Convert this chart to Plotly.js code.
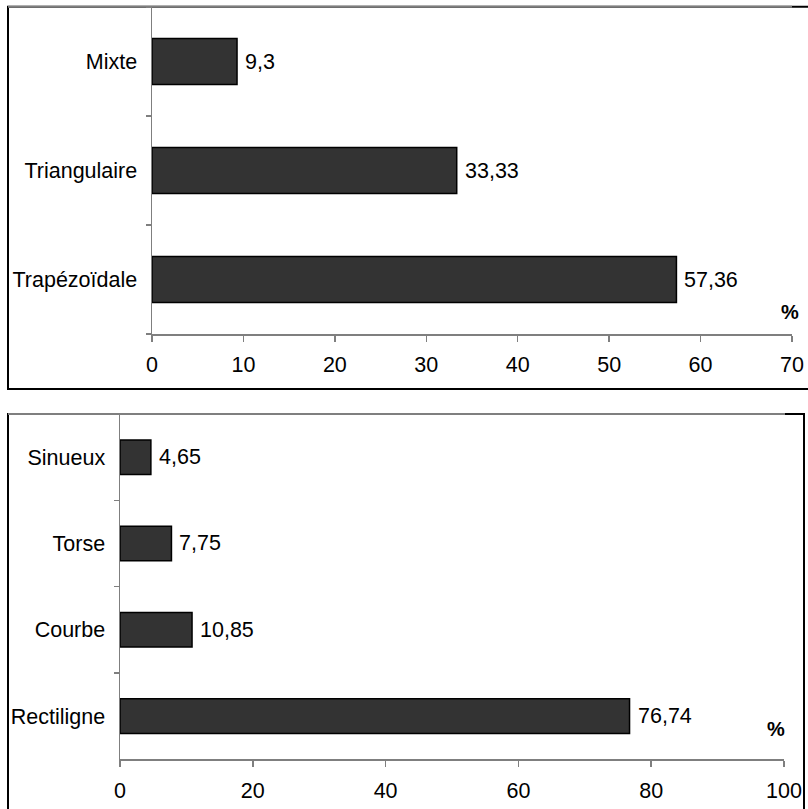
<!DOCTYPE html>
<html>
<head>
<meta charset="utf-8">
<script src="https://cdn.plot.ly/plotly-3.0.1.min.js"></script>
<style>html,body{margin:0;padding:0;background:#fff;}</style>
</head>
<body>
<div id="chart" style="width:808px;height:809px;"></div>
<script>
// Top chart: shape of the section
const topCategories = ['Trapézoïdale', 'Triangulaire', 'Mixte'];
const topValues = [57.36, 33.33, 9.3];
const topTicks = [0, 10, 20, 30, 40, 50, 60, 70];

// Bottom chart: course of the trunk
const bottomCategories = ['Rectiligne', 'Courbe', 'Torse', 'Sinueux'];
const bottomValues = [76.74, 10.85, 7.75, 4.65];
const bottomTicks = [0, 20, 40, 60, 80, 100];

const unitLabel = '%';

const W = 808, H = 809;
const FONT = 'Liberation Sans, Arial, sans-serif';
const FS = 21.5;
const fmt = v => String(v).replace('.', ',');

const barStyle = {color: '#333333', line: {color: '#000000', width: 1.5}};

const traces = [
  {type: 'bar', orientation: 'h', y: topCategories, x: topValues, xaxis: 'x', yaxis: 'y',
   marker: barStyle, width: 0.42, hoverinfo: 'skip'},
  {type: 'bar', orientation: 'h', y: bottomCategories, x: bottomValues, xaxis: 'x2', yaxis: 'y2',
   marker: barStyle, width: 0.40, hoverinfo: 'skip'}
];

const annotations = [];
topValues.forEach((v, i) => annotations.push({
  xref: 'x', yref: 'y', x: v, y: topCategories[i], text: fmt(v), showarrow: false,
  xanchor: 'left', yanchor: 'middle', xshift: 6, font: {family: FONT, size: FS, color: '#000'}
}));
bottomValues.forEach((v, i) => annotations.push({
  xref: 'x2', yref: 'y2', x: v, y: bottomCategories[i], text: fmt(v), showarrow: false,
  xanchor: 'left', yanchor: 'middle', xshift: 6, font: {family: FONT, size: FS, color: '#000'}
}));
annotations.push({xref: 'paper', yref: 'paper', x: 790 / W, y: 1 - 312 / H, text: '<b>' + unitLabel + '</b>',
  showarrow: false, xanchor: 'center', yanchor: 'middle', font: {family: FONT, size: 20, color: '#000'}});
annotations.push({xref: 'paper', yref: 'paper', x: 776 / W, y: 1 - 729 / H, text: '<b>' + unitLabel + '</b>',
  showarrow: false, xanchor: 'center', yanchor: 'middle', font: {family: FONT, size: 20, color: '#000'}});

const axisCommon = {
  showline: true, linecolor: '#7f7f7f', linewidth: 1.5, showgrid: false, zeroline: false,
  ticks: 'outside', tickcolor: '#7f7f7f', tickwidth: 1.5, ticklen: 6,
  tickfont: {family: FONT, size: FS, color: '#000'}, fixedrange: true
};

const px = v => v / W, py = v => 1 - v / H;

const shapes = [
  // outer frames
  {type: 'rect', xref: 'paper', yref: 'paper', x0: px(8), x1: px(815), y0: py(389), y1: py(6.7),
   line: {color: '#000', width: 2}, fillcolor: 'rgba(0,0,0,0)', layer: 'below'},
  {type: 'rect', xref: 'paper', yref: 'paper', x0: px(8), x1: px(804), y0: py(815), y1: py(414),
   line: {color: '#000', width: 2}, fillcolor: 'rgba(0,0,0,0)', layer: 'below'},
  // gray plot-area top edges
  {type: 'line', xref: 'paper', yref: 'paper', x0: px(8), x1: px(792), y0: py(6.7), y1: py(6.7),
   line: {color: '#7f7f7f', width: 2}},
  {type: 'line', xref: 'paper', yref: 'paper', x0: px(8), x1: px(785), y0: py(414), y1: py(414),
   line: {color: '#7f7f7f', width: 2}}
];

const layout = {
  width: W, height: H, margin: {l: 0, r: 0, t: 0, b: 0},
  paper_bgcolor: '#fff', plot_bgcolor: '#fff', showlegend: false,
  font: {family: FONT, size: FS, color: '#000'},
  xaxis: Object.assign({}, axisCommon, {domain: [px(152), px(792)], range: [0, 70], tickvals: topTicks,
    anchor: 'y', ticklabelstandoff: 5}),
  yaxis: Object.assign({}, axisCommon, {domain: [py(334), py(7)], type: 'category',
    categoryorder: 'array', categoryarray: topCategories, tickson: 'boundaries', ticklen: 5,
    anchor: 'x', ticklabelstandoff: 9}),
  xaxis2: Object.assign({}, axisCommon, {domain: [px(120), px(784)], range: [0, 100], tickvals: bottomTicks,
    anchor: 'y2', ticklabelstandoff: 5}),
  yaxis2: Object.assign({}, axisCommon, {domain: [py(759.3), py(414)], type: 'category',
    categoryorder: 'array', categoryarray: bottomCategories, tickson: 'boundaries', ticklen: 5,
    anchor: 'x2', ticklabelstandoff: 9}),
  annotations: annotations,
  shapes: shapes
};

Plotly.newPlot('chart', traces, layout, {displayModeBar: false, staticPlot: true});
</script>
</body>
</html>
